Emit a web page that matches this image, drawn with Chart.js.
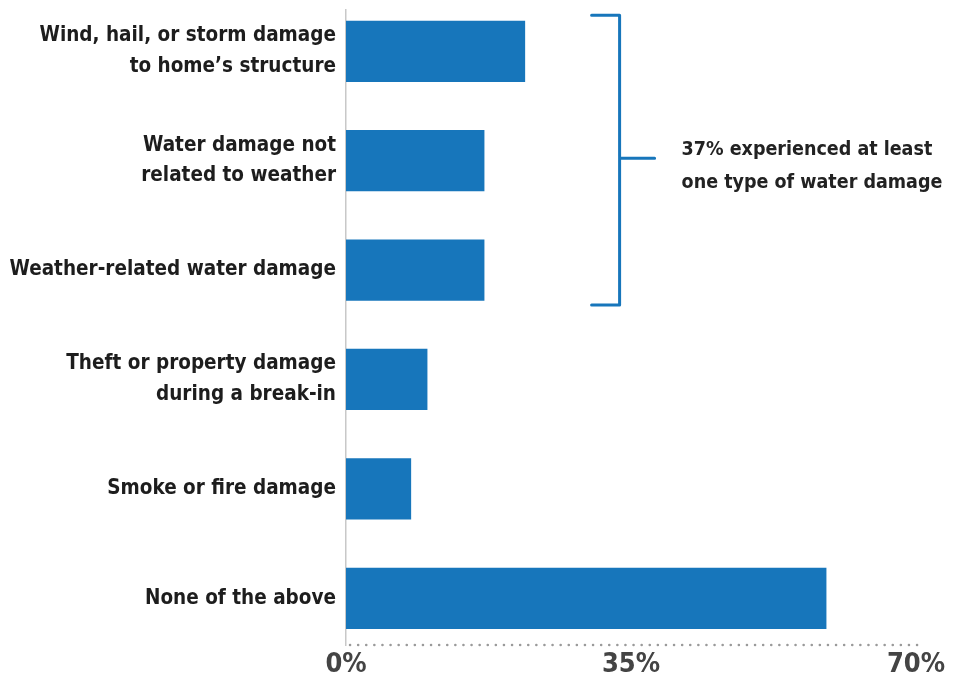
<!DOCTYPE html>
<html>
<head>
<meta charset="utf-8">
<script src="https://cdn.jsdelivr.net/npm/chart.js@4.4.0/dist/chart.umd.min.js"></script>
<style>
  html, body { margin: 0; padding: 0; background: #fff; }
  #wrap { position: relative; width: 956px; height: 677px; }
</style>
</head>
<body>
<div id="wrap"><canvas id="chart" width="956" height="677"></canvas></div>
<script>
// data
const categories = [
  ['Wind, hail, or storm damage', 'to home\u2019s structure'],
  ['Water damage not', 'related to weather'],
  ['Weather-related water damage'],
  ['Theft or property damage', 'during a break-in'],
  ['Smoke or fire damage'],
  ['None of the above']
];
const shares = [22, 17, 17, 10, 8, 59];
const xTicks = [0, 35, 70];
const bracketNote = ['37% experienced at least', 'one type of water damage'];
const bracketRows = [0, 2];

const FONT = "'Liberation Sans Narrow', 'DejaVu Sans Condensed', 'Roboto Condensed', 'Liberation Sans', sans-serif";
const BLUE = '#1776bb';

// dotted baseline under the bars
const baselinePlugin = {
  id: 'baseline',
  beforeDatasetsDraw(chart) {
    const { ctx, chartArea: a } = chart;
    ctx.save();
    ctx.strokeStyle = '#9a9a9a';
    ctx.lineWidth = 2.5;
    ctx.lineCap = 'round';
    ctx.setLineDash([0.1, 8]);
    ctx.beginPath();
    ctx.moveTo(a.left + 4, a.bottom);
    ctx.lineTo(a.right + 2, a.bottom);
    ctx.stroke();
    ctx.restore();
  }
};

// bracket + note on the water-damage group
const bracketPlugin = {
  id: 'bracket',
  afterDraw(chart) {
    const { ctx, scales: { x, y } } = chart;
    const top = y.getPixelForValue(bracketRows[0]) - 36;
    const bottom = y.getPixelForValue(bracketRows[1]) + 35;
    const bx = x.getPixelForValue(33.6);
    const mid = (top + bottom) / 2 - 2;
    ctx.save();
    ctx.strokeStyle = BLUE;
    ctx.lineWidth = 3;
    ctx.lineCap = 'round';
    ctx.lineJoin = 'round';
    ctx.beginPath();
    ctx.moveTo(bx - 28, top);
    ctx.lineTo(bx, top);
    ctx.lineTo(bx, bottom);
    ctx.lineTo(bx - 28, bottom);
    ctx.moveTo(bx, mid);
    ctx.lineTo(bx + 35, mid);
    ctx.stroke();

    ctx.fillStyle = '#222';
    ctx.font = 'bold 19.5px ' + FONT;
    ctx.textAlign = 'left';
    ctx.textBaseline = 'middle';
    ctx.fillText(bracketNote[0], bx + 62, mid - 8);
    ctx.fillText(bracketNote[1], bx + 62, mid + 25);
    ctx.restore();
  }
};

new Chart(document.getElementById('chart'), {
  type: 'bar',
  data: {
    datasets: [{
      data: shares.map((v, i) => ({ x: v, y: i })),
      backgroundColor: BLUE,
      borderWidth: 0,
      barPercentage: 0.56,
      categoryPercentage: 1
    }]
  },
  options: {
    indexAxis: 'y',
    responsive: false,
    animation: false,
    layout: { padding: { top: 10, right: 40, left: 0, bottom: 0 } },
    plugins: { legend: { display: false }, tooltip: { enabled: false } },
    scales: {
      x: {
        type: 'linear',
        min: 0,
        max: 70,
        afterBuildTicks: s => { s.ticks = xTicks.map(v => ({ value: v })); },
        afterFit: s => { s.height = 32; s.paddingLeft = 0; s.paddingRight = 0; },
        grid: { display: false, drawTicks: false },
        border: { display: false },
        ticks: {
          padding: 4,
          color: '#444',
          font: { family: FONT, size: 27, weight: 'bold' },
          callback: v => v + '%'
        }
      },
      y: {
        type: 'linear',
        reverse: true,
        offset: false,
        min: -0.3775,
        max: 5.427,
        afterBuildTicks: s => { s.ticks = categories.map((_, i) => ({ value: i })); },
        afterFit: s => { s.width = 346; s.paddingTop = 0; s.paddingBottom = 0; },
        grid: { display: false, drawTicks: false, offset: false },
        border: { display: true, color: '#c8c8c8', width: 1.5 },
        ticks: {
          padding: 10,
          color: '#1d1d1d',
          font: { family: FONT, size: 20.5, weight: 'bold', lineHeight: 1.5 },
          callback: v => categories[v]
        }
      }
    }
  },
  plugins: [baselinePlugin, bracketPlugin]
});
</script>
</body>
</html>
